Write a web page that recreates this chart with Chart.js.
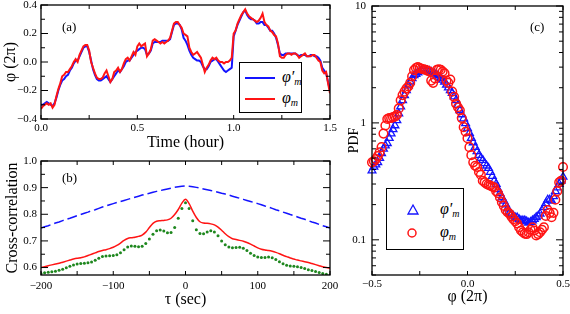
<!DOCTYPE html>
<html>
<head>
<meta charset="utf-8">
<script src="https://cdn.jsdelivr.net/npm/chart.js@4"></script>
<style>
  body { margin: 0; background: #fff; width: 570px; height: 314px; position: relative; overflow: hidden;
         font-family: 'Liberation Serif', serif; }
  canvas { position: absolute; }
  .lbl { position: absolute; font-size: 13px; line-height: 13px; }
  .legend { position: absolute; border: 1.3px solid #000; background: #fff; box-sizing: border-box; }
  .legend .row { position: absolute; left: 0; right: 0; height: 0; }
  .legend .swatch { position: absolute; height: 2px; }
  .legend .txt { position: absolute; font-size: 16px; line-height: 16px; top: -9px; font-style: italic; white-space: nowrap; }
  .legend .txt sub { font-size: 10px; vertical-align: -3px; }
  .legend svg { position: absolute; overflow: visible; }
</style>
</head>
<body>

<canvas id="chartA" width="340" height="154" style="left:0;top:0"></canvas>
<canvas id="chartB" width="340" height="164" style="left:0;top:150px"></canvas>
<canvas id="chartC" width="230" height="314" style="left:340px;top:0"></canvas>

<div class="lbl" style="left:62px;top:20px">(a)</div>
<div class="lbl" style="left:62px;top:171px">(b)</div>
<div class="lbl" style="left:530px;top:20px">(c)</div>

<div class="legend" style="left:239px;top:62px;width:63px;height:51px">
  <div class="row" style="top:15px">
    <div class="swatch" style="left:5px;width:30px;top:-1px;background:rgb(20,20,255)"></div>
    <div class="txt" style="left:42px">φ′<sub>m</sub></div>
  </div>
  <div class="row" style="top:36px">
    <div class="swatch" style="left:5px;width:30px;top:-1px;background:rgb(255,20,20)"></div>
    <div class="txt" style="left:42px">φ<sub>m</sub></div>
  </div>
</div>

<div class="legend" style="left:386px;top:188px;width:78px;height:62px">
  <div class="row" style="top:21px">
    <svg style="left:20px;top:-6px" width="12" height="12"><polygon points="6,1 11,10 1,10" fill="none" stroke="rgb(20,20,255)" stroke-width="1.3"/></svg>
    <div class="txt" style="left:53px">φ′<sub>m</sub></div>
  </div>
  <div class="row" style="top:44px">
    <svg style="left:19px;top:-6px" width="12" height="12"><circle cx="6" cy="6" r="4" fill="none" stroke="rgb(255,20,20)" stroke-width="1.5"/></svg>
    <div class="txt" style="left:53px">φ<sub>m</sub></div>
  </div>
</div>

<script>
// ---------- (a) phase vs time ----------
const timeHours = [
  0.00,0.01,0.02,0.03,0.04,0.05,0.06,0.07,0.08,0.09,
  0.10,0.11,0.12,0.13,0.14,0.15,0.16,0.17,0.18,0.19,
  0.20,0.21,0.22,0.23,0.24,0.25,0.26,0.27,0.28,0.29,
  0.30,0.31,0.32,0.33,0.34,0.35,0.36,0.37,0.38,0.39,
  0.40,0.41,0.42,0.43,0.44,0.45,0.46,0.47,0.48,0.49,
  0.50,0.51,0.52,0.53,0.54,0.55,0.56,0.57,0.58,0.59,
  0.60,0.61,0.62,0.63,0.64,0.65,0.66,0.67,0.68,0.69,
  0.70,0.71,0.72,0.73,0.74,0.75,0.76,0.77,0.78,0.79,
  0.80,0.81,0.82,0.83,0.84,0.85,0.86,0.87,0.88,0.89,
  0.90,0.91,0.92,0.93,0.94,0.95,0.96,0.97,0.98,0.99,
  1.00,1.01,1.02,1.03,1.04,1.05,1.06,1.07,1.08,1.09,
  1.10,1.11,1.12,1.13,1.14,1.15,1.16,1.17,1.18,1.19,
  1.20,1.21,1.22,1.23,1.24,1.25,1.26,1.27,1.28,1.29,
  1.30,1.31,1.32,1.33,1.34,1.35,1.36,1.37,1.38,1.39,
  1.40,1.41,1.42,1.43,1.44,1.45,1.46,1.47,1.48,1.49,
  1.50
];
// phi'_m (blue)
const phiPrimeM = [
  -0.30,-0.30,-0.29,-0.28,-0.29,-0.30,-0.31,-0.29,-0.25,-0.20,
  -0.16,-0.13,-0.12,-0.10,-0.09,-0.06,-0.04,-0.01,0.01,0.01,
  0.04,0.07,0.10,0.11,0.11,0.07,0.01,-0.05,-0.09,-0.12,
  -0.13,-0.13,-0.12,-0.11,-0.10,-0.12,-0.14,-0.12,-0.10,-0.08,
  -0.06,-0.07,-0.05,-0.03,0.00,0.01,0.01,0.03,0.05,0.07,
  0.08,0.09,0.10,0.10,0.09,0.05,0.06,0.08,0.13,0.14,
  0.14,0.14,0.14,0.15,0.15,0.15,0.15,0.16,0.21,0.26,
  0.27,0.27,0.26,0.23,0.17,0.15,0.12,0.08,0.05,0.03,
  0.02,0.01,0.01,0.00,-0.03,-0.05,-0.05,-0.03,0.00,0.01,
  0.02,0.02,0.00,-0.02,-0.04,-0.06,-0.07,-0.06,-0.05,-0.04,
  0.18,0.22,0.26,0.29,0.32,0.35,0.36,0.33,0.31,0.30,
  0.30,0.29,0.27,0.27,0.28,0.28,0.26,0.26,0.24,0.22,
  0.22,0.20,0.17,0.12,0.06,0.05,0.05,0.06,0.06,0.06,
  0.06,0.06,0.06,0.05,0.04,0.05,0.05,0.05,0.04,0.04,
  0.05,0.05,0.04,0.04,0.03,0.01,-0.04,-0.06,-0.08,-0.14,
  -0.20
];
// phi_m (red)
const phiM = [
  -0.33,-0.31,-0.30,-0.29,-0.30,-0.29,-0.32,-0.30,-0.24,-0.19,
  -0.15,-0.10,-0.09,-0.07,-0.07,-0.05,-0.03,0.00,0.02,0.00,
  0.05,0.08,0.11,0.12,0.12,0.08,0.00,-0.04,-0.08,-0.11,
  -0.12,-0.12,-0.11,-0.08,-0.06,-0.10,-0.14,-0.12,-0.07,-0.06,
  -0.04,-0.07,-0.05,-0.01,0.02,0.03,0.01,0.04,0.07,0.05,
  0.11,0.13,0.11,0.12,0.13,0.04,0.06,0.09,0.15,0.16,
  0.15,0.14,0.13,0.14,0.13,0.14,0.15,0.17,0.22,0.27,
  0.28,0.28,0.26,0.24,0.20,0.19,0.18,0.10,0.07,0.05,
  0.06,0.07,0.05,0.03,-0.02,-0.07,-0.04,-0.02,0.01,0.03,
  0.02,0.03,0.01,0.00,0.00,-0.01,0.00,0.00,0.01,0.03,
  0.20,0.22,0.27,0.30,0.33,0.35,0.37,0.34,0.32,0.31,
  0.30,0.29,0.28,0.29,0.31,0.34,0.28,0.26,0.25,0.22,
  0.21,0.19,0.18,0.13,0.04,0.03,0.03,0.05,0.06,0.06,
  0.05,0.06,0.06,0.05,0.03,0.04,0.05,0.06,0.04,0.04,
  0.04,0.05,0.05,0.03,0.01,0.00,-0.06,-0.08,-0.07,-0.15,
  -0.22
];
const aXTicks = [0, 0.25, 0.5, 0.75, 1.0, 1.25, 1.5];
const aXLabels = ['0.0', '', '0.5', '', '1.0', '', '1.5'];
const aYTicks = [-0.4, -0.3, -0.2, -0.1, 0, 0.1, 0.2, 0.3, 0.4];
const aYLabels = ['\u22120.4', '', '\u22120.2', '', '0.0', '', '0.2', '', '0.4'];

// ---------- (b) cross-correlation ----------
const tauSec = [
  -200,-195,-190,-185,-180,-175,-170,-165,-160,-155,
  -150,-145,-140,-135,-130,-125,-120,-115,-110,-105,
  -100,-95,-90,-85,-80,-75,-70,-65,-60,-55,
  -50,-45,-40,-35,-30,-25,-20,-15,-10,-5,
  0,
  5,10,15,20,25,30,35,40,45,50,
  55,60,65,70,75,80,85,90,95,100,
  105,110,115,120,125,130,135,140,145,150,
  155,160,165,170,175,180,185,190,195,200
];
const ccDashed = [
  0.748,0.753,0.757,0.762,0.767,0.771,0.776,0.781,0.785,0.790,
  0.795,0.799,0.804,0.808,0.813,0.817,0.822,0.827,0.831,0.836,
  0.840,0.844,0.848,0.852,0.856,0.860,0.864,0.868,0.872,0.876,
  0.879,0.883,0.886,0.889,0.892,0.895,0.898,0.901,0.903,0.905,
  0.906,
  0.905,0.903,0.901,0.898,0.895,0.892,0.889,0.886,0.883,0.879,
  0.876,0.872,0.868,0.864,0.860,0.856,0.852,0.848,0.844,0.840,
  0.836,0.831,0.827,0.822,0.817,0.813,0.808,0.804,0.799,0.795,
  0.790,0.785,0.781,0.776,0.771,0.767,0.762,0.757,0.753,0.748
];
const ccSolid = [
  0.600,0.603,0.607,0.610,0.613,0.616,0.620,0.624,0.628,0.632,
  0.635,0.637,0.640,0.645,0.650,0.655,0.660,0.664,0.667,0.671,
  0.676,0.683,0.692,0.702,0.709,0.712,0.714,0.717,0.722,0.733,
  0.750,0.766,0.774,0.776,0.777,0.779,0.785,0.799,0.818,0.842,
  0.856,
  0.840,0.812,0.788,0.772,0.767,0.766,0.764,0.760,0.752,0.740,
  0.727,0.716,0.708,0.705,0.702,0.699,0.694,0.688,0.681,0.674,
  0.669,0.666,0.664,0.661,0.657,0.652,0.646,0.641,0.636,0.632,
  0.628,0.625,0.622,0.619,0.615,0.611,0.607,0.603,0.600,0.597
];
const ccDots = [
  0.578,0.580,0.582,0.584,0.586,0.590,0.594,0.599,0.605,0.610,
  0.613,0.615,0.616,0.618,0.621,0.627,0.635,0.641,0.643,0.644,
  0.645,0.648,0.656,0.667,0.677,0.681,0.680,0.678,0.680,0.690,
  0.707,0.725,0.738,0.741,0.737,0.731,0.732,0.750,0.785,0.822,
  0.843,
  0.822,0.776,0.742,0.728,0.727,0.733,0.738,0.733,0.719,0.700,
  0.686,0.677,0.674,0.675,0.676,0.672,0.664,0.654,0.645,0.640,
  0.638,0.638,0.640,0.637,0.630,0.622,0.614,0.609,0.606,0.605,
  0.603,0.600,0.596,0.592,0.589,0.585,0.581,0.578,0.575,0.572
];
const bXTicks = [-200, -150, -100, -50, 0, 50, 100, 150, 200];
const bXLabels = ['\u2212200', '', '\u2212100', '', '0', '', '100', '', '200'];
const bYTicks = [0.6, 0.65, 0.7, 0.75, 0.8, 0.85, 0.9, 0.95, 1.0];
const bYLabels = ['0.6', '', '0.7', '', '0.8', '', '0.9', '', '1.0'];

// ---------- (c) PDF ----------
const phiBins = [
  -0.50,-0.49,-0.48,-0.47,-0.46,-0.45,-0.44,-0.43,-0.42,-0.41,
  -0.40,-0.39,-0.38,-0.37,-0.36,-0.35,-0.34,-0.33,-0.32,-0.31,
  -0.30,-0.29,-0.28,-0.27,-0.26,-0.25,-0.24,-0.23,-0.22,-0.21,
  -0.20,-0.19,-0.18,-0.17,-0.16,-0.15,-0.14,-0.13,-0.12,-0.11,
  -0.10,-0.09,-0.08,-0.07,-0.06,-0.05,-0.04,-0.03,-0.02,-0.01,
  0.00,0.01,0.02,0.03,0.04,0.05,0.06,0.07,0.08,0.09,
  0.10,0.11,0.12,0.13,0.14,0.15,0.16,0.17,0.18,0.19,
  0.20,0.21,0.22,0.23,0.24,0.25,0.26,0.27,0.28,0.29,
  0.30,0.31,0.32,0.33,0.34,0.35,0.36,0.37,0.38,0.39,
  0.40,0.41,0.42,0.43,0.44,0.45,0.46,0.47,0.48,0.49,
  0.50
];
const pdfPrimeM = [
  0.39,0.42,0.44,0.46,0.50,0.55,0.60,0.64,0.67,0.74,
  0.81,0.88,0.95,1.05,1.20,1.38,1.56,1.72,1.90,2.08,
  2.25,2.40,2.55,2.62,2.70,2.76,2.80,2.82,2.80,2.80,
  2.78,2.72,2.65,2.60,2.55,2.48,2.40,2.33,2.25,2.12,
  2.00,1.90,1.80,1.68,1.56,1.42,1.28,1.18,1.09,0.99,
  0.90,0.82,0.74,0.68,0.62,0.57,0.53,0.50,0.48,0.45,
  0.43,0.41,0.38,0.35,0.32,0.30,0.27,0.25,0.23,0.215,
  0.20,0.185,0.17,0.165,0.16,0.155,0.155,0.15,0.146,0.146,
  0.146,0.143,0.14,0.142,0.146,0.15,0.156,0.16,0.167,0.178,
  0.19,0.205,0.22,0.22,0.215,0.235,0.26,0.28,0.30,0.32,
  0.345
];
const pdfM = [
  0.46,0.47,0.49,0.52,0.56,0.62,0.81,0.95,1.08,1.10,
  1.10,1.12,1.13,1.17,1.33,1.56,1.73,1.85,1.97,2.05,
  2.20,2.50,2.83,2.95,3.00,2.95,2.90,2.88,2.85,2.80,
  2.75,2.30,2.20,2.40,2.85,2.88,2.85,2.75,2.65,2.30,
  2.20,2.35,1.85,1.67,1.46,1.36,1.28,1.10,0.92,0.84,
  0.74,0.62,0.53,0.46,0.43,0.42,0.38,0.36,0.32,0.31,
  0.30,0.295,0.29,0.285,0.28,0.26,0.25,0.23,0.21,0.195,
  0.18,0.172,0.167,0.158,0.15,0.144,0.138,0.128,0.12,0.116,
  0.113,0.112,0.116,0.122,0.128,0.12,0.109,0.112,0.116,0.122,
  0.128,0.16,0.18,0.17,0.156,0.17,0.22,0.26,0.31,0.32,
  0.42
];
const cXTicks = [-0.5, -0.25, 0, 0.25, 0.5];
const cXLabels = ['\u22120.5', '', '0.0', '', '0.5'];
const cYTicks = [0.05,0.06,0.07,0.08,0.09,0.1,0.2,0.3,0.4,0.5,0.6,0.7,0.8,0.9,1,2,3,4,5,6,7,8,9,10];
const cYLabels = ['','','','','','0.1','','','','','','','','','1','','','','','','','','','10'];

const BLUE = 'rgb(20,20,255)';
const RED = 'rgb(255,20,20)';
const GREEN = 'rgb(30,135,30)';
const FONT = "'Liberation Serif', serif";

Chart.defaults.font.family = FONT;
Chart.defaults.color = '#000';

// frame around plot area + inward ticks on all four sides
const boxTicks = {
  id: 'boxTicks',
  afterDraw(chart, args, opts) {
    const {ctx, chartArea: a} = chart;
    const xs = chart.scales.x, ys = chart.scales.y;
    ctx.save();
    ctx.strokeStyle = '#000';
    ctx.lineWidth = 1;
    ctx.beginPath();
    xs.ticks.forEach(t => {
      const px = xs.getPixelForValue(t.value);
      ctx.moveTo(px, a.bottom); ctx.lineTo(px, a.bottom - opts.xLen);
      ctx.moveTo(px, a.top); ctx.lineTo(px, a.top + opts.xLen);
    });
    ys.ticks.forEach(t => {
      const py = ys.getPixelForValue(t.value);
      const len = t.label ? opts.yMajor : opts.yMinor;
      ctx.moveTo(a.left, py); ctx.lineTo(a.left + len, py);
      ctx.moveTo(a.right, py); ctx.lineTo(a.right - len, py);
    });
    ctx.stroke();
    ctx.lineWidth = 1.3;
    ctx.strokeRect(a.left, a.top, a.right - a.left, a.bottom - a.top);
    ctx.restore();
  }
};

function axis(pos, type, min, max, ticks, labels, size, title) {
  return {
    type: type,
    position: pos,
    min: min,
    max: max,
    bounds: 'data',
    grid: { display: false, drawTicks: false },
    border: { display: false },
    afterBuildTicks: s => { s.ticks = ticks.map(v => ({ value: v })); },
    afterFit: s => {
      if (pos === 'left') { s.width = size; s.paddingTop = 0; s.paddingBottom = 0; }
      else { s.height = size; s.paddingLeft = 0; s.paddingRight = 0; }
    },
    ticks: {
      autoSkip: false,
      maxRotation: 0,
      padding: title.tickPad,
      font: { family: FONT, size: 11, weight: 'normal' },
      callback: (v, i) => labels[i]
    },
    title: {
      display: true,
      text: title.text,
      font: { family: FONT, size: title.size || 16, weight: 'normal' },
      padding: title.pad
    }
  };
}

const baseOpts = {
  responsive: false,
  animation: false,
  devicePixelRatio: 1,
  plugins: { legend: { display: false }, tooltip: { enabled: false } }
};

// (a)
new Chart(document.getElementById('chartA'), {
  type: 'line',
  data: {
    datasets: [
      { data: timeHours.map((t, i) => ({ x: t, y: phiM[i] })), borderColor: RED, borderWidth: 2, pointRadius: 0, tension: 0 },
      { data: timeHours.map((t, i) => ({ x: t, y: phiPrimeM[i] })), borderColor: BLUE, borderWidth: 2, pointRadius: 0, tension: 0 }
    ]
  },
  options: Object.assign({}, baseOpts, {
    layout: { padding: { left: 0, top: 5, right: 10, bottom: 0 } },
    scales: {
      x: axis('bottom', 'linear', 0, 1.5, aXTicks, aXLabels, 35, { text: 'Time (hour)', tickPad: 3, pad: { top: 0, bottom: 2 } }),
      y: axis('left', 'linear', -0.4, 0.4, aYTicks, aYLabels, 41, { text: 'φ (2π)', tickPad: 4, pad: { top: 1.5, bottom: 0 } })
    },
    plugins: Object.assign({}, baseOpts.plugins, { boxTicks: { xLen: 4, yMajor: 7, yMinor: 4 } })
  }),
  plugins: [boxTicks]
});

// (b)
new Chart(document.getElementById('chartB'), {
  type: 'line',
  data: {
    datasets: [
      { data: tauSec.map((t, i) => ({ x: t, y: ccDashed[i] })), borderColor: BLUE, borderWidth: 1.5, borderDash: [10, 4], pointRadius: 0 },
      { data: tauSec.map((t, i) => ({ x: t, y: ccSolid[i] })), borderColor: RED, borderWidth: 1.5, pointRadius: 0, cubicInterpolationMode: 'monotone' },
      { data: tauSec.map((t, i) => ({ x: t, y: ccDots[i] })), showLine: false, pointRadius: 1.5, pointBorderWidth: 0,
        pointBackgroundColor: GREEN, borderColor: GREEN }
    ]
  },
  options: Object.assign({}, baseOpts, {
    layout: { padding: { left: 0, top: 11, right: 10, bottom: 0 } },
    scales: {
      x: axis('bottom', 'linear', -200, 200, bXTicks, bXLabels, 39, { text: 'τ (sec)', tickPad: 5, pad: { top: 0, bottom: 4.5 } }),
      y: axis('left', 'linear', 0.572, 1.0, bYTicks, bYLabels, 41, { text: 'Cross-correlation', tickPad: 4, pad: { top: 3, bottom: 0 } })
    },
    plugins: Object.assign({}, baseOpts.plugins, { boxTicks: { xLen: 4, yMajor: 7, yMinor: 4 } })
  }),
  plugins: [boxTicks]
});

// (c)
new Chart(document.getElementById('chartC'), {
  type: 'scatter',
  data: {
    datasets: [
      { data: phiBins.map((p, i) => ({ x: p, y: pdfM[i] })), pointStyle: 'circle', pointRadius: 4.3,
        borderColor: RED, backgroundColor: 'rgba(0,0,0,0)', pointBorderWidth: 1.5, clip: false },
      { data: phiBins.map((p, i) => ({ x: p, y: pdfPrimeM[i] })), pointStyle: 'triangle', pointRadius: 4.5,
        borderColor: BLUE, backgroundColor: 'rgba(0,0,0,0)', pointBorderWidth: 1.3, clip: false }
    ]
  },
  options: Object.assign({}, baseOpts, {
    layout: { padding: { left: 0, top: 6, right: 7, bottom: 0 } },
    scales: {
      x: axis('bottom', 'linear', -0.5, 0.5, cXTicks, cXLabels, 39, { text: 'φ (2π)', tickPad: 3, pad: { top: 0, bottom: 8 } }),
      y: axis('left', 'logarithmic', 0.05, 10, cYTicks, cYLabels, 32, { text: 'PDF', size: 14, tickPad: 6, pad: { top: 5.5, bottom: 0 } })
    },
    plugins: Object.assign({}, baseOpts.plugins, { boxTicks: { xLen: 4, yMajor: 7, yMinor: 4 } })
  }),
  plugins: [boxTicks]
});
</script>
</body>
</html>
